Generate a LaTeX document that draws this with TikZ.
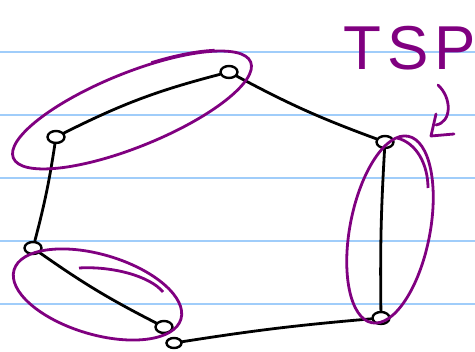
\documentclass[tikz,border=0pt]{standalone}
\usepackage{fontspec}
\setmainfont{Liberation Sans}
\usetikzlibrary{shapes.geometric}
\definecolor{rule}{RGB}{160,205,250}
\definecolor{ink}{RGB}{128,0,128}
\begin{document}
\begin{tikzpicture}[x=1pt,y=-1pt,
  vtx/.style={ellipse,draw=black,line width=2.4pt,minimum width=17pt,minimum height=12pt,inner sep=0pt},
  edge/.style={black,line width=2.8pt,line cap=round},
  hull/.style={ink,line width=2.8pt},
  ruled/.style={rule,line width=2.5pt}]
\useasboundingbox (0,0) rectangle (475,352);
\fill[white] (0,0) rectangle (475,352);
% ruled notebook lines
\foreach \yy in {52,115,178,241,304} \draw[ruled] (0,\yy) -- (475,\yy);
% tour vertices
\node[vtx] (A) at (229,72) {};
\node[vtx] (B) at (56,137) {};
\node[vtx] (C) at (33,248) {};
\node[vtx] (D) at (164,327) {};
\node[vtx,minimum width=15pt,minimum height=10pt] (D2) at (174,343) {};
\node[vtx] (E) at (385,142) {};
\node[vtx] (F) at (381,318) {};
% tour edges
\draw[edge] (A) to[bend right=6] (B);
\draw[edge] (B) to[bend left=3] (C);
\draw[edge] (C) to[bend right=4] (D);
\draw[edge] (D2) to[bend left=2] (F);
\draw[edge] (F) to[bend left=2] (E);
\draw[edge] (E) to[bend left=4] (A);
% grouped pairs
\draw[hull,rotate around={22:(132,110)}] (132,110) ellipse [x radius=128pt, y radius=37pt];
\draw[hull,rotate around={-16.4:(97.5,294.5)}] (97.5,294.5) ellipse [x radius=87pt, y radius=40pt];
\draw[hull,rotate around={-11:(390,229.5)}] (390,229.5) ellipse [x radius=40pt, y radius=95pt];
% extra pen strokes
\begin{scope}[shift={(132,110)},rotate=22]
  \draw[hull,line width=2pt] (40:129.5pt and 38.5pt) arc[start angle=40,end angle=74,x radius=129.5pt,y radius=38.5pt];
\end{scope}
\draw[hull] (79,268) .. controls (112,266) and (150,276) .. (163,292);
\draw[hull] (397,138) .. controls (417,143) and (428,165) .. (428,188);
% label
\node[ink,font=\fontsize{62}{62}\selectfont\addfontfeature{LetterSpace=10},anchor=base west,inner sep=0pt] (tsp) at (343,70) {TSP};
\draw[hull,line cap=round,line join=round] (438,85) .. controls (452,98) and (452,122) .. (436,125);
\draw[hull,line cap=round,line join=round] (436,114) -- (431,136) -- (454,134);
\end{tikzpicture}
\end{document}
